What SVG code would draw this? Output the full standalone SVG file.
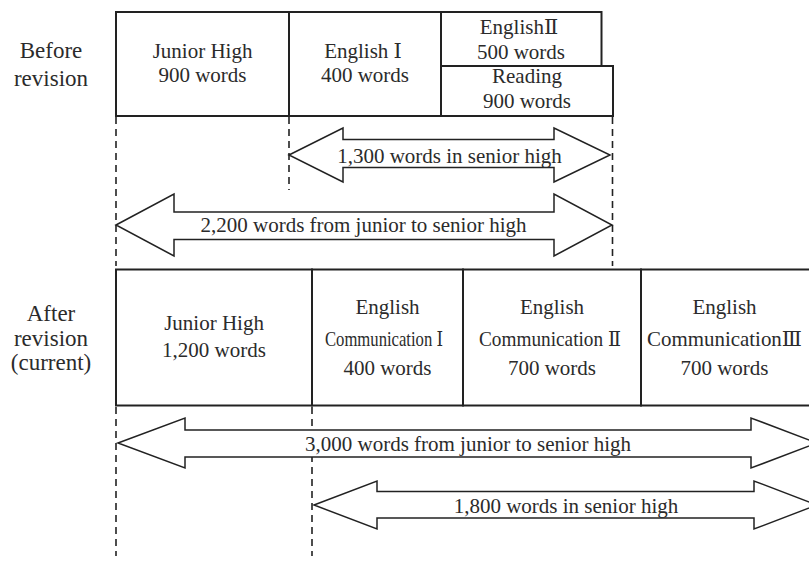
<svg xmlns="http://www.w3.org/2000/svg" width="809" height="564" viewBox="0 0 809 564">
  <style>
    text { font-family: "Liberation Serif", "DejaVu Serif", "Noto Sans CJK JP", serif; font-size: 21px; fill: #2b2b2b; text-anchor: middle; }
    .lbl { font-size: 23px; }
    .box { fill: #ffffff; stroke: #222222; stroke-width: 2; }
    .dash { fill: none; stroke: #222222; stroke-width: 1.6; stroke-dasharray: 7 5; }
    .arrow { fill: #ffffff; stroke: #222222; stroke-width: 1.5; stroke-linejoin: miter; }
  </style>
  <rect width="809" height="564" fill="#ffffff"/>

  <g id="label-before">
    <text class="lbl" x="51" y="58">Before</text>
    <text class="lbl" x="51" y="86">revision</text>
  </g>
  <g id="label-after">
    <text class="lbl" x="51" y="321">After</text>
    <text class="lbl" x="51" y="346">revision</text>
    <text class="lbl" x="51" y="370">(current)</text>
  </g>

  <g id="connectors">
    <path class="dash" d="M116 117 V266 M289 117 V190 M612.5 117 V266 M116 407 V556 M312 407 V556"/>
    <polygon class="arrow" points="289,155 343,128 343,139.5 554,139.5 554,128 610,155 554,182 554,167.5 343,167.5 343,182"/>
    <polygon class="arrow" points="116,225 174,194 174,212 554,212 554,194 612,225 554,256 554,239.5 174,239.5 174,256"/>
    <polygon class="arrow" points="118,443 185,418 185,430 751,430 751,418 817,443 751,468 751,457 185,457 185,468"/>
    <polygon class="arrow" points="314,505 377,481 377,491.5 754,491.5 754,481 817,505 754,529 754,518 377,518 377,529"/>
    <text x="449.5" y="163">1,300 words in senior high</text>
    <text x="363.5" y="232">2,200 words from junior to senior high</text>
    <text x="468" y="451">3,000 words from junior to senior high</text>
    <text x="566" y="513">1,800 words in senior high</text>
  </g>

  <g id="before-junior">
    <rect class="box" x="116" y="12" width="173" height="104"/>
    <text x="202.5" y="58">Junior High</text>
    <text x="202.5" y="82">900 words</text>
  </g>
  <g id="before-english1">
    <rect class="box" x="289" y="12" width="152" height="104"/>
    <text x="363" y="58">English Ⅰ</text>
    <text x="365" y="82">400 words</text>
  </g>
  <g id="before-english2">
    <rect class="box" x="441" y="12" width="160.5" height="54"/>
    <text x="519" y="34">EnglishⅡ</text>
    <text x="521" y="59">500 words</text>
  </g>
  <g id="before-reading">
    <rect class="box" x="441" y="66" width="172" height="50"/>
    <text x="527" y="83">Reading</text>
    <text x="527" y="108">900 words</text>
  </g>

  <g id="after-junior">
    <rect class="box" x="116" y="269.5" width="196" height="136"/>
    <text x="214" y="329.5">Junior High</text>
    <text x="214" y="356.5">1,200 words</text>
  </g>
  <g id="after-ec1">
    <rect class="box" x="312" y="269.5" width="151" height="136"/>
    <text x="387.5" y="314">English</text>
    <text x="384" y="345.5" textLength="118" lengthAdjust="spacingAndGlyphs">Communication Ⅰ</text>
    <text x="387.5" y="375">400 words</text>
  </g>
  <g id="after-ec2">
    <rect class="box" x="463" y="269.5" width="178" height="136"/>
    <text x="552" y="314">English</text>
    <text x="550" y="345.5" textLength="142" lengthAdjust="spacingAndGlyphs">Communication Ⅱ</text>
    <text x="552" y="375">700 words</text>
  </g>
  <g id="after-ec3">
    <rect class="box" x="641" y="269.5" width="200" height="136"/>
    <text x="724.5" y="314">English</text>
    <text x="724.5" y="345.5" textLength="155" lengthAdjust="spacingAndGlyphs">CommunicationⅢ</text>
    <text x="724.5" y="375">700 words</text>
  </g>
</svg>
